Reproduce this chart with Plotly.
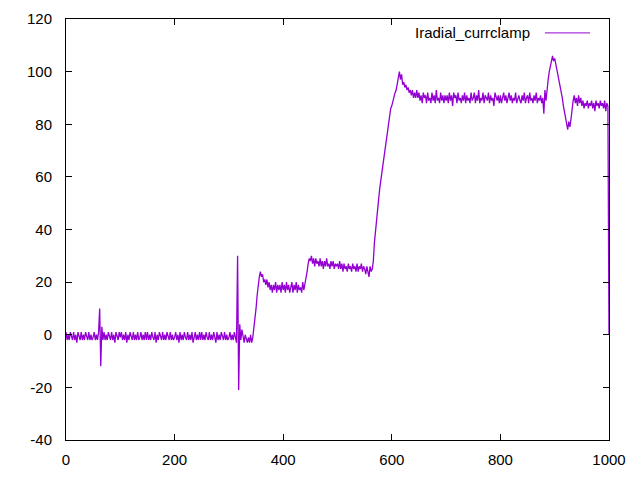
import plotly.graph_objects as go

x_step = 2
y_vals = [
    # 0-48
    1, -2, 0, -2, 1, -1, -2, 1, -2, 0, -3, 1, -1, -2, 1, -2, 0, -2, 1, -1, -2, 1, -2, 0, -2,
    # 50-98
    -1, 1, -2, 0, -2, 1, 10, -12, 3, -2, 1, -2, 0, -2, 1, -1, -2, 1, -2, 0, -3, 1, -1, -2, 1,
    # 100-148
    -1, 1, -2, 0, -2, 1, -3, 0, -2, 1, -1, -2, 1, -2, 0, -2, 1, -2, -1, 1, -2, 0, -2, 1, -2,
    # 150-198
    1, -2, 0, -2, 1, -1, -2, 1, -3, 0, -2, 1, -1, -2, 1, -2, 0, -2, 1, -1, -2, 1, -2, 0, -2,
    # 200-248
    -1, 1, -2, 0, -3, 1, -2, 0, -2, 1, -1, -2, 1, -2, 0, -2, 1, -3, -1, 1, -2, 0, -2, 1, -2,
    # 250-298
    1, -2, 0, -2, 1, -1, -2, 1, -2, 0, -2, 1, -1, -3, 1, -2, 0, -2, 1, -1, -2, 1, -2, 0, -2,
    # 300-348
    -1, 1, -2, 0, -2, 1, -1, -3, 30, -21, 4, -2, 2, -1, -3, 0, -2, -3, -1, -3, 0, -3, -1, 2, 6,
    # 350-398
    10, 15, 19, 22, 24, 22, 23, 20, 21, 19, 21, 18, 20, 17, 19, 16, 19, 17, 20, 16, 19, 17, 19, 16, 20,
    # 400-448
    17, 19, 16, 20, 17, 19, 16, 18, 20, 16, 19, 17, 20, 16, 19, 17, 18, 16, 20, 17, 19, 21, 24, 27, 29,
    # 450-498
    28, 30, 27, 29, 26, 29, 27, 28, 26, 29, 26, 28, 25, 28, 26, 29, 26, 27, 25, 28, 26, 28, 25, 27, 26,
    # 500-548
    27, 25, 28, 25, 27, 24, 27, 25, 26, 24, 27, 25, 26, 24, 27, 25, 26, 24, 27, 24, 26, 25, 27, 24, 26,
    # 550-598
    25, 23, 26, 24, 22, 26, 24, 25, 28, 35, 40, 44, 48, 52, 56, 59, 62, 66, 69, 72, 75, 78, 81, 84, 86,
    # 600-648
    87, 89, 90, 92, 93, 96, 98, 100, 97, 99, 95, 96, 94, 95, 93, 94, 92, 93, 91, 93, 90, 92, 90, 93, 90,
    # 650-698
    92, 89, 91, 88, 92, 90, 91, 88, 92, 89, 90, 88, 92, 89, 91, 88, 93, 89, 90, 88, 92, 89, 91, 88, 91,
    # 700-748
    89, 91, 88, 92, 89, 91, 87, 92, 90, 91, 88, 92, 89, 90, 88, 91, 89, 92, 88, 91, 89, 90, 88, 92, 89,
    # 750-798
    90, 92, 88, 91, 89, 93, 88, 90, 89, 92, 88, 91, 90, 89, 92, 88, 91, 89, 90, 87, 92, 90, 89, 91, 88,
    # 800-848
    91, 88, 90, 92, 89, 91, 88, 90, 92, 89, 91, 88, 90, 89, 92, 88, 90, 91, 89, 88, 91, 89, 92, 88, 90,
    # 850-898
    91, 88, 92, 89, 90, 88, 91, 89, 92, 88, 90, 89, 91, 88, 90, 84, 93, 89, 95, 97, 100, 103, 104, 106, 104,
    # 900-948
    105, 103, 101, 99, 97, 95, 92, 90, 87, 85, 82, 80, 78, 81, 79, 82, 86, 89, 91, 88, 90, 87, 91, 88, 90,
    # 950-998
    87, 89, 86, 88, 87, 89, 86, 88, 87, 89, 86, 88, 85, 89, 87, 88, 86, 89, 87, 88, 86, 89, 85, 88, 87,
    # 1000
    0,
]
x_vals = [i * x_step for i in range(len(y_vals))]

series_name = "Iradial_currclamp"
x_ticks = [0, 200, 400, 600, 800, 1000]
y_ticks = [-40, -20, 0, 20, 40, 60, 80, 100, 120]

color = "#9400D3"
font = dict(family="Liberation Sans, Arial, sans-serif", size=15, color="black")

fig = go.Figure()
fig.add_trace(go.Scatter(x=x_vals, y=y_vals, mode="lines",
                         line=dict(color=color, width=1.3), name=series_name,
                         showlegend=False))

axis_common = dict(showline=True, linecolor="black", linewidth=1, mirror="ticks",
                   ticks="inside", ticklen=6, tickcolor="black", showgrid=False,
                   zeroline=False, tickfont=font, automargin=False)
fig.update_xaxes(range=[0, 1000], tickvals=x_ticks, ticktext=[str(t) for t in x_ticks],
                 ticklabelstandoff=6, **axis_common)
fig.update_yaxes(range=[-40, 120], tickvals=y_ticks, ticktext=[str(t) for t in y_ticks],
                 ticklabelstandoff=10, **axis_common)

# gnuplot-style key: text then line sample on the right
fig.add_annotation(xref="paper", yref="paper", x=0.858, y=0.967, xanchor="right",
                   yanchor="middle", text=series_name, showarrow=False, font=font)
fig.add_shape(type="line", xref="paper", yref="paper", x0=0.882, x1=0.965,
              y0=0.967, y1=0.967, line=dict(color=color, width=1))

# page body has an 8px margin, so the figure is 624x464 inside the 640x480 window
fig.update_layout(width=624, height=464, plot_bgcolor="white", paper_bgcolor="white",
                  margin=dict(l=58, r=23, t=11, b=32), font=font)
fig.write_html("out.html")
